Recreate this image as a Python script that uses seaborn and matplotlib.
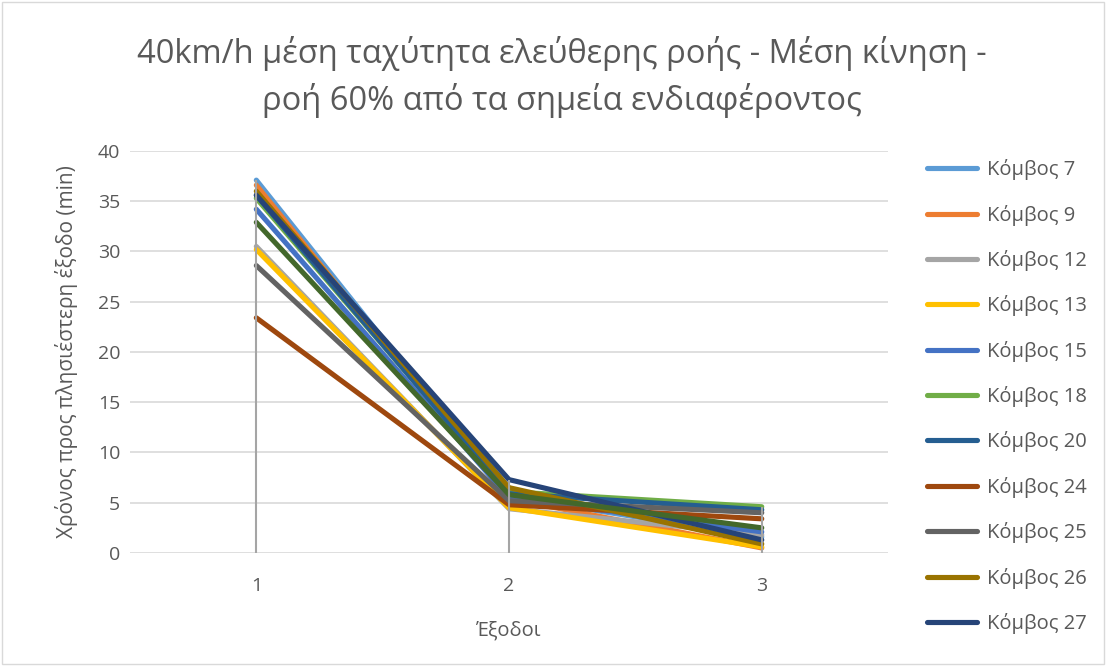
import matplotlib
matplotlib.use("Agg")
import matplotlib.pyplot as plt
from matplotlib.lines import Line2D
from matplotlib.patches import Rectangle
import seaborn as sns
import pandas as pd

sns.set_theme(style="white")
plt.rcParams["font.family"] = ["Open Sans", "DejaVu Sans"]

exits = [1, 2, 3]
node_names = ["Κόμβος 7", "Κόμβος 9", "Κόμβος 12", "Κόμβος 13", "Κόμβος 15",
              "Κόμβος 18", "Κόμβος 20", "Κόμβος 24", "Κόμβος 25", "Κόμβος 26",
              "Κόμβος 27", "Κόμβος 28"]
node_7 = [37.1, 5.6, 1.6]
node_9 = [36.6, 5.4, 0.5]
node_12 = [30.5, 4.4, 1.8]
node_13 = [30.2, 4.5, 0.6]
node_15 = [34.2, 5.5, 2.1]
node_18 = [35.3, 6.1, 4.6]
node_20 = [35.6, 5.9, 4.3]
node_24 = [23.4, 4.8, 3.4]
node_25 = [28.6, 5.2, 4.0]
node_26 = [36.0, 6.5, 0.9]
node_27 = [35.6, 7.3, 1.3]
node_28 = [32.9, 5.8, 2.5]
series = [node_7, node_9, node_12, node_13, node_15, node_18, node_20,
          node_24, node_25, node_26, node_27, node_28]
colors = ["#5B9BD5", "#ED7D31", "#A5A5A5", "#FFC000", "#4472C4", "#70AD47",
          "#255E91", "#9E480E", "#636363", "#997300", "#264478", "#43682B"]
legend_count = 11

title = "40km/h μέση ταχύτητα ελεύθερης ροής - Μέση κίνηση -\nροή 60% από τα σημεία ενδιαφέροντος"
x_label = "Έξοδοι"
y_label = "Χρόνος προς πλησιέστερη έξοδο (min)"

rows = []
for name, vals in zip(node_names, series):
    for x, v in zip(exits, vals):
        rows.append({"Έξοδος": x, "Χρόνος": v, "Κόμβος": name})
df = pd.DataFrame(rows)

text_color = "#595959"
fig = plt.figure(figsize=(11.06, 6.66), dpi=100)
ax = fig.add_axes([0.1175, 0.1697, 0.6855, 0.6036])

sns.lineplot(data=df, x="Έξοδος", y="Χρόνος", hue="Κόμβος",
             hue_order=node_names, palette=colors, linewidth=3.7,
             sort=False, legend=False, ax=ax)
for ln in ax.get_lines():
    ln.set_solid_capstyle("round")

# drop lines from the highest value of each exit to the axis
tops = [max(s[i] for s in series) for i in range(len(exits))]
ax.vlines(exits, 0, tops, colors="#A5A5A5", linewidth=1.5, zorder=5)

ax.set_xlim(0.5, 3.5)
ax.set_ylim(0, 40)
ax.set_xticks(exits)
ax.set_yticks(range(0, 41, 5))
ax.grid(axis="y", color="#D9D9D9", linewidth=1.2)
ax.set_axisbelow(True)
for sp in ax.spines.values():
    sp.set_visible(False)
ax.tick_params(axis="both", length=0, labelsize=14, colors=text_color)
ax.tick_params(axis="y", pad=7)
ax.tick_params(axis="x", pad=17)
ax.set_xlabel(x_label, fontsize=14.5, color=text_color, labelpad=19)
ax.set_ylabel(y_label, fontsize=15, color=text_color, labelpad=14)

fig.text(0.508, 0.885, title, ha="center", va="center", fontsize=23.5,
         color=text_color, linespacing=1.45)

handles = [Line2D([0], [0], color=c, linewidth=3.7, solid_capstyle="round")
           for c in colors[:legend_count]]
fig.legend(handles, node_names[:legend_count], loc="upper left",
           bbox_to_anchor=(0.831, 0.773), frameon=False, fontsize=14.5,
           labelcolor=text_color, handlelength=2.5, handletextpad=0.45,
           labelspacing=1.21, borderaxespad=0)

fig.add_artist(Rectangle((0.002, 0.003), 0.996, 0.994, transform=fig.transFigure,
                         fill=False, edgecolor="#D9D9D9", linewidth=1))

fig.savefig("out.png", dpi=100, facecolor="white")
